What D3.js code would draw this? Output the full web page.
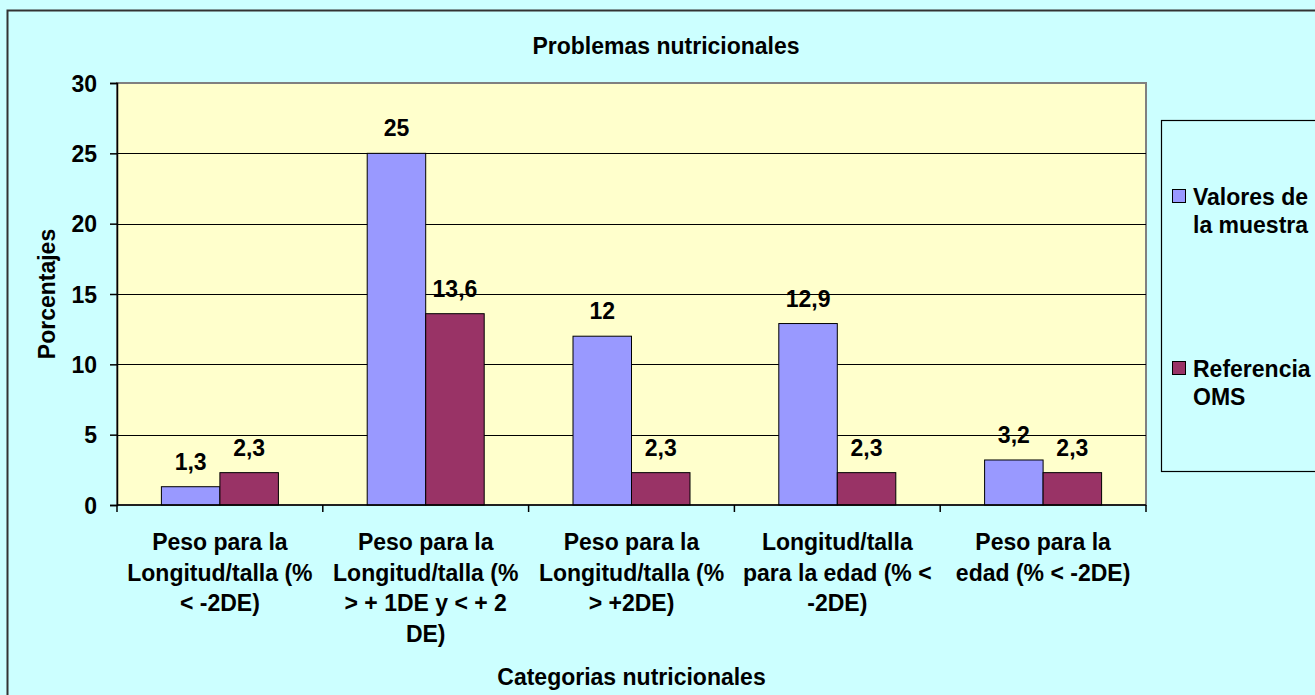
<!DOCTYPE html>
<html>
<head>
<meta charset="utf-8">
<script src="https://cdn.jsdelivr.net/npm/d3@7"></script>
<style>
  html, body { margin: 0; padding: 0; background: #CCFFFF; overflow: hidden; }
  svg { display: block; }
  text { font-family: "Liberation Sans", Arial, sans-serif; font-weight: bold; fill: #000; }
</style>
</head>
<body>
<svg id="chart" width="1315" height="695"></svg>
<script>
// ---- Data ----
const categories = [
  ["Peso para la", "Longitud/talla (%", "< -2DE)"],
  ["Peso para la", "Longitud/talla (%", "> + 1DE y < + 2", "DE)"],
  ["Peso para la", "Longitud/talla (%", "> +2DE)"],
  ["Longitud/talla", "para la edad (% <", "-2DE)"],
  ["Peso para la", "edad (% < -2DE)"]
];
const seriesNames = ["Valores de la muestra", "Referencia OMS"];
const legendLines = [["Valores de", "la muestra"], ["Referencia", "OMS"]];
const valoresMuestra = [1.3, 25, 12, 12.9, 3.2];
const referenciaOMS = [2.3, 13.6, 2.3, 2.3, 2.3];
const yTicks = [0, 5, 10, 15, 20, 25, 30];
const seriesColors = ["#9999FF", "#993366"];
const titleText = "Problemas nutricionales";
const xTitle = "Categorias nutricionales";
const yTitle = "Porcentajes";

// ---- Layout ----
const svg = d3.select("#chart");
const FS = 23;
const plot = { left: 117, right: 1146, top: 83, bottom: 505 };

// outer chart border (cropped on right/bottom)
svg.append("rect")
  .attr("x", 7.5).attr("y", 10.5)
  .attr("width", 1400).attr("height", 800)
  .attr("fill", "#CCFFFF").attr("stroke", "#333").attr("stroke-width", 2);

const catIdx = categories.map((d, i) => i);
const x0 = d3.scaleBand().domain(catIdx).range([plot.left, plot.right]).padding(0);
const x1 = d3.scaleBand().domain(seriesNames).range([0, x0.bandwidth()])
  .paddingInner(0).paddingOuter(0.759);
const y = d3.scaleLinear().domain([0, 30]).range([plot.bottom, plot.top]);

// plot area
svg.append("rect")
  .attr("x", plot.left).attr("y", plot.top)
  .attr("width", plot.right - plot.left).attr("height", plot.bottom - plot.top)
  .attr("fill", "#FFFFCC").attr("stroke", "#808080").attr("stroke-width", 2);

// gridlines
svg.append("g").selectAll("line")
  .data(yTicks.filter(t => t > 0 && t < 30))
  .join("line")
  .attr("x1", plot.left).attr("x2", plot.right)
  .attr("y1", d => Math.round(y(d)) + 0.5).attr("y2", d => Math.round(y(d)) + 0.5)
  .attr("stroke", "#000").attr("stroke-width", 1);

// bars
const table = catIdx.map(i => ({ i, values: [valoresMuestra[i], referenciaOMS[i]] }));
const groups = svg.append("g").selectAll("g")
  .data(table).join("g")
  .attr("transform", d => `translate(${x0(d.i)},0)`);

groups.selectAll("rect")
  .data(d => d.values.map((v, k) => ({ v, k })))
  .join("rect")
  .attr("x", d => x1(seriesNames[d.k]))
  .attr("y", d => y(d.v))
  .attr("width", x1.bandwidth())
  .attr("height", d => y(0) - y(d.v))
  .attr("fill", d => seriesColors[d.k])
  .attr("stroke", "#000").attr("stroke-width", 1);

const fmt = v => String(v).replace(".", ",");
groups.selectAll("text")
  .data(d => d.values.map((v, k) => ({ v, k })))
  .join("text")
  .attr("x", d => x1(seriesNames[d.k]) + x1.bandwidth() / 2)
  .attr("y", d => y(d.v) - 17)
  .attr("text-anchor", "middle")
  .attr("font-size", FS)
  .text(d => fmt(d.v));

// y axis
const yAxis = d3.axisLeft(y).tickValues(yTicks).tickSize(7).tickPadding(13).tickFormat(d3.format("d"));
const gy = svg.append("g").attr("transform", `translate(${plot.left},0)`).call(yAxis);
gy.select(".domain").attr("stroke", "#000").attr("stroke-width", 1.5);
gy.selectAll(".tick line").attr("stroke", "#000").attr("stroke-width", 1.5);
gy.selectAll(".tick text").attr("font-size", FS).attr("font-family", "Liberation Sans, Arial, sans-serif")
  .attr("font-weight", "bold").attr("fill", "#000").attr("dy", "0.36em");

// x axis line + ticks at category boundaries
const bounds = catIdx.map(i => x0(i)).concat([plot.right]);
svg.append("line")
  .attr("x1", plot.left).attr("x2", plot.right)
  .attr("y1", plot.bottom).attr("y2", plot.bottom)
  .attr("stroke", "#000").attr("stroke-width", 1.5);
svg.append("g").selectAll("line").data(bounds).join("line")
  .attr("x1", d => d).attr("x2", d => d)
  .attr("y1", plot.bottom).attr("y2", plot.bottom + 7)
  .attr("stroke", "#000").attr("stroke-width", 1.5);

// category labels
const lab = svg.append("g").selectAll("text").data(table).join("text")
  .attr("text-anchor", "middle")
  .attr("font-size", FS)
  .attr("transform", d => `translate(${x0(d.i) + x0.bandwidth() / 2},550)`);
lab.selectAll("tspan")
  .data(d => categories[d.i])
  .join("tspan")
  .attr("x", 0)
  .attr("y", (d, k) => k * 30.6)
  .text(d => d);

// titles
svg.append("text").attr("x", 666).attr("y", 54).attr("text-anchor", "middle")
  .attr("font-size", FS).text(titleText);
svg.append("text").attr("x", (plot.left + plot.right) / 2).attr("y", 685).attr("text-anchor", "middle")
  .attr("font-size", FS).text(xTitle);
svg.append("text").attr("transform", `translate(55,${(plot.top + plot.bottom) / 2}) rotate(-90)`)
  .attr("text-anchor", "middle").attr("font-size", FS).text(yTitle);

// legend
svg.append("rect")
  .attr("x", 1161.5).attr("y", 120.5).attr("width", 200).attr("height", 351)
  .attr("fill", "#CCFFFF").attr("stroke", "#000").attr("stroke-width", 1.2);
const legendY = [205, 377];
const leg = svg.append("g").selectAll("g").data(seriesNames).join("g")
  .attr("transform", (d, k) => `translate(0,${legendY[k]})`);
leg.append("rect")
  .attr("x", 1172.5).attr("y", -15.5).attr("width", 13).attr("height", 13)
  .attr("fill", (d, k) => seriesColors[k]).attr("stroke", "#000").attr("stroke-width", 1);
leg.append("text").attr("font-size", FS)
  .selectAll("tspan").data((d, k) => legendLines[k]).join("tspan")
  .attr("x", 1193).attr("y", (d, j) => j * 28).text(d => d);
</script>
</body>
</html>
